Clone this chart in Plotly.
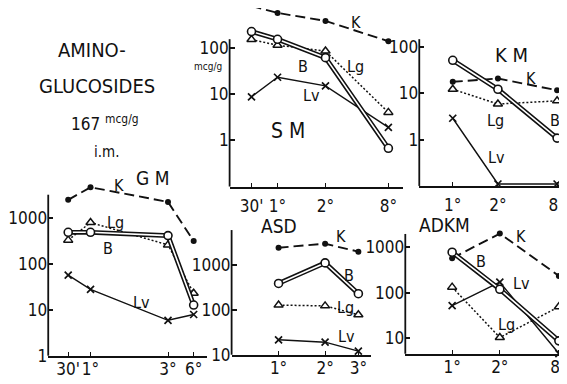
import plotly.graph_objects as go

W, H = 567, 384

# ---------------- data ----------------
SM_TIMES = ["30'", "1°", "2°", "8°"]
SM_K = [800, 565, 380, 138]
SM_B = [224, 152, 61, 0.67]
SM_LG = [150, 113, 85, 4.0]
SM_LV = [8.7, 23, 15, 1.9]

KM_TIMES = ["1°", "2°", "8°"]
KM_K = [17.8, 21, 11.7]
KM_B = [52, 12.3, 1.08]
KM_LG = [12.3, 5.9, 6.9]
KM_LV = [2.9, 0.11, 0.11]

GM_TIMES = ["30'", "1°", "3°", "6°"]
GM_K = [2500, 4700, 2250, 315]
GM_B = [490, 490, 415, 12.7]
GM_LG = [330, 800, 260, 23]
GM_LV = [57, 28, 5.9, 7.9]

ASD_TIMES = ["1°", "2°", "3°"]
ASD_K = [2450, 3000, 2000]
ASD_B = [390, 1120, 230]
ASD_LG = [128, 123, 78]
ASD_LV = [21.5, 19, 12]

ADKM_TIMES = ["1°", "2°", "8°"]
ADKM_K = [560, 1920, 230]
ADKM_B = [755, 118, 8.9]
ADKM_LG = [131, 10.5, 49]
ADKM_LV = [52, 168, 4.7]

# ---------------- panel layout (pixel geometry) ----------------
PANELS = [
    dict(name="SM", times=SM_TIMES, data=dict(K=SM_K, B=SM_B, Lg=SM_LG, Lv=SM_LV),
         px=(221, 395), py_bottom=183.3, py_top=0, log_bottom=-1, decade=47.5, axis_top=32,
         slots=[0.126, 0.276, 0.552, 0.914], yticks=[1, 10, 100], standoff=3),
    dict(name="KM", times=KM_TIMES, data=dict(K=KM_K, B=KM_B, Lg=KM_LG, Lv=KM_LV),
         px=(411, 567), py_bottom=182.7, py_top=30, log_bottom=-1, decade=47.5, axis_top=32,
         slots=[0.215, 0.505, 0.885], yticks=[1, 10, 100], standoff=3),
    dict(name="GM", times=GM_TIMES, data=dict(K=GM_K, B=GM_B, Lg=GM_LG, Lv=GM_LV),
         px=(39.3, 198), py_bottom=357, py_top=170, log_bottom=0, decade=47.1, axis_top=191.7,
         slots=[0.126, 0.267, 0.756, 0.918], yticks=[1, 10, 100, 1000], standoff=-3),
    dict(name="ASD", times=ASD_TIMES, data=dict(K=ASD_K, B=ASD_B, Lg=ASD_LG, Lv=ASD_LV),
         px=(223, 363), py_bottom=356, py_top=222, log_bottom=1, decade=46, axis_top=228,
         slots=[0.336, 0.669, 0.907], yticks=[10, 100, 1000], standoff=-3),
    dict(name="ADKM", times=ADKM_TIMES, data=dict(K=ADKM_K, B=ADKM_B, Lg=ADKM_LG, Lv=ADKM_LV),
         px=(397, 567), py_bottom=355, py_top=222, log_bottom=0.669, decade=47.2, axis_top=232,
         slots=[0.276, 0.557, 0.905], yticks=[10, 100, 1000], standoff=-3),
]

FONT = "DejaVu Sans Condensed, Liberation Sans Narrow, Arial Narrow, sans-serif"
BLACK = "#111111"
TICK_SIZE = 17

fig = go.Figure()
layout = dict(width=W, height=H, margin=dict(l=0, r=0, t=0, b=0),
              paper_bgcolor="white", plot_bgcolor="rgba(0,0,0,0)",
              showlegend=False, font=dict(family=FONT, color=BLACK))
shapes = []

for i, p in enumerate(PANELS, start=1):
    xa = "x" if i == 1 else f"x{i}"
    ya = "y" if i == 1 else f"y{i}"
    xkey = "xaxis" if i == 1 else f"xaxis{i}"
    ykey = "yaxis" if i == 1 else f"yaxis{i}"
    pos = dict(zip(p["times"], p["slots"]))
    xvals = [pos[t] for t in p["times"]]
    d = p["data"]

    # K : dashed with dots
    fig.add_trace(go.Scatter(x=xvals, y=d["K"], xaxis=xa, yaxis=ya, mode="lines+markers",
                             line=dict(color=BLACK, width=1.9, dash="10px,5px"),
                             marker=dict(symbol="circle", size=6, color=BLACK)))
    # Lg : dotted with open triangles
    fig.add_trace(go.Scatter(x=xvals, y=d["Lg"], xaxis=xa, yaxis=ya, mode="lines+markers",
                             line=dict(color=BLACK, width=1.5, dash="2px,2px"),
                             marker=dict(symbol="triangle-up", size=8, color="white",
                                         line=dict(color=BLACK, width=1.5)),
                             cliponaxis=False))
    # Lv : solid thin with x
    fig.add_trace(go.Scatter(x=xvals, y=d["Lv"], xaxis=xa, yaxis=ya, mode="lines+markers",
                             line=dict(color=BLACK, width=1.4),
                             marker=dict(symbol="x-thin", size=7, color=BLACK,
                                         line=dict(color=BLACK, width=1.7)),
                             cliponaxis=False))
    # B : double line with open circles
    fig.add_trace(go.Scatter(x=xvals, y=d["B"], xaxis=xa, yaxis=ya, mode="lines",
                             line=dict(color=BLACK, width=4.8)))
    fig.add_trace(go.Scatter(x=xvals, y=d["B"], xaxis=xa, yaxis=ya, mode="lines+markers",
                             line=dict(color="white", width=1.6),
                             marker=dict(symbol="circle", size=8, color="white",
                                         line=dict(color=BLACK, width=1.6)),
                             cliponaxis=False))

    h = p["py_bottom"] - p["py_top"]
    yr = [p["log_bottom"] - 0.001, p["log_bottom"] + h / p["decade"]]
    layout[xkey] = dict(domain=[p["px"][0] / W, p["px"][1] / W], anchor=ya, range=[0, 1],
                        showgrid=False, zeroline=False, showline=True, linecolor=BLACK,
                        linewidth=1.8, ticks="inside", ticklen=4, tickwidth=1.2,
                        tickcolor=BLACK, tickvals=xvals, ticktext=p["times"],
                        tickangle=0, ticklabelstandoff=p["standoff"],
                        ticklabeloverflow="allow",
                        tickfont=dict(size=TICK_SIZE, family=FONT, color=BLACK),
                        fixedrange=True)
    layout[ykey] = dict(domain=[1 - p["py_bottom"] / H, 1 - p["py_top"] / H], anchor=xa,
                        type="log", range=yr, showgrid=False, zeroline=False, showline=False,
                        ticks="inside", ticklen=5, tickwidth=1.5, tickcolor=BLACK,
                        tickvals=p["yticks"], ticktext=[str(v) for v in p["yticks"]],
                        tickangle=0, ticklabeloverflow="allow",
                        tickfont=dict(size=TICK_SIZE, family=FONT, color=BLACK),
                        fixedrange=True)
    frac_top = (p["py_bottom"] - p["axis_top"]) / h
    shapes.append(dict(type="line", xref=f"{xa} domain", yref=f"{ya} domain",
                       x0=0, x1=0, y0=0, y1=frac_top, line=dict(color=BLACK, width=1.8)))

layout["shapes"] = shapes


def ann(text, px, py, size=16, **kw):
    return dict(text=text, x=px / W, y=1 - py / H, xref="paper", yref="paper",
                showarrow=False, xanchor="center", yanchor="middle",
                font=dict(size=size, family=FONT, color=BLACK), **kw)


LABELS = [
    # SM
    ("K", 348, 15), ("B", 295, 60), ("Lg", 347, 60), ("Lv", 303, 90),
    # KM
    ("K", 523, 72), ("Lg", 487, 115), ("B", 547, 115), ("Lv", 488, 153),
    # GM
    ("K", 110, 182), ("Lg", 107, 220), ("B", 99, 247), ("Lv", 133, 302),
    # ASD
    ("K", 333, 235), ("B", 341, 275), ("Lg", 337, 307), ("Lv", 338, 337),
    # ADKM
    ("K", 513, 235), ("B", 473, 260), ("Lv", 513, 283), ("Lg", 498, 325),
]
TITLES = [("S M", 279, 126, 21), ("K M", 503, 48, 20), ("G M", 144, 175, 19),
          ("ASD", 270, 224, 19), ("ADKM", 436, 223, 19)]

annotations = [ann(t, x, y, 16) for t, x, y in LABELS]
annotations += [ann(t, x, y, s) for t, x, y, s in TITLES]
annotations += [
    ann("AMINO-", 83, 43, 20),
    ann("GLUCOSIDES", 88, 80, 20),
    ann("167 <sup>mcg/g</sup>", 96, 118, 17),
    ann("i.m.", 98, 148, 15),
    ann("mcg/g", 199, 60, 10),
]
layout["annotations"] = annotations

fig.update_layout(**layout)
fig.write_html("out.html")
